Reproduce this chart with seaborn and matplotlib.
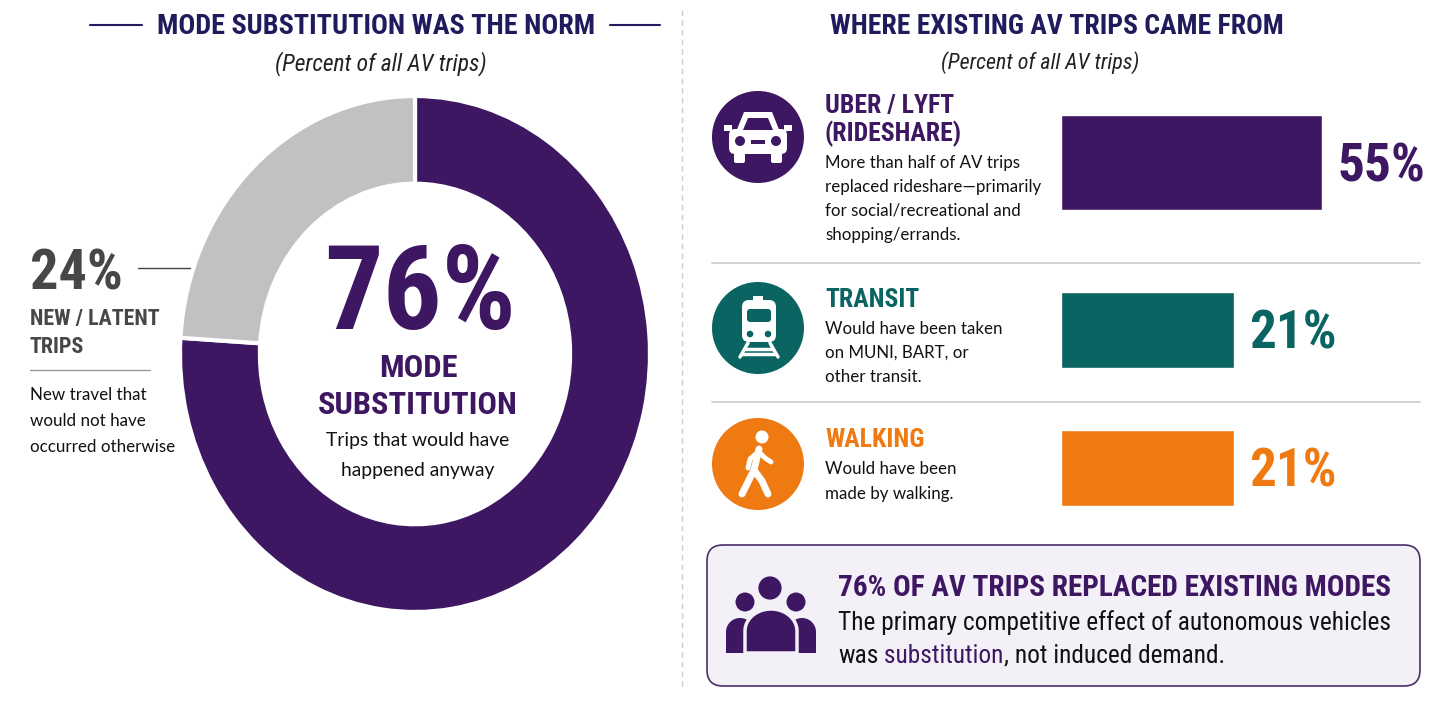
import numpy as np
import seaborn as sns
import matplotlib.pyplot as plt
import matplotlib.font_manager as fm
from matplotlib.patches import Circle, Rectangle, FancyBboxPatch, Polygon

# data
donut_labels = ["Mode substitution", "New / latent trips"]
donut_shares = [76, 24]
modes = ["Uber / Lyft (rideshare)", "Transit", "Walking"]
mode_shares = [55, 21, 21]
mode_heads = [["UBER / LYFT", "(RIDESHARE)"], ["TRANSIT"], ["WALKING"]]
mode_notes = [
    ["More than half of AV trips", "replaced rideshare\u2014primarily",
     "for social/recreational and", "shopping/errands."],
    ["Would have been taken", "on MUNI, BART, or", "other transit."],
    ["Would have been", "made by walking."],
]

PURPLE = "#3e1762"
NAVY = "#1f1b5c"
GRAY = "#c1c1c1"
DARK = "#474747"
TEAL = "#0a6461"
ORANGE = "#f07a12"
mode_colors = [PURPLE, TEAL, ORANGE]

avail = {f.name for f in fm.fontManager.ttflist}
HEAD = next((f for f in ["Roboto Condensed", "Liberation Sans Narrow", "Roboto"] if f in avail), "DejaVu Sans")
BODY = "Lato" if "Lato" in avail else "DejaVu Sans"

sns.set_theme(style="white")
plt.rcParams["font.family"] = [BODY, "DejaVu Sans"]

W, H = 1456, 704
fig = plt.figure(figsize=(W / 100, H / 100), dpi=100)
fig.patch.set_facecolor("white")
R = fig.canvas.get_renderer()

ov = fig.add_axes([0, 0, 1, 1])
ov.set_xlim(0, W)
ov.set_ylim(H, 0)
ov.axis("off")


def px_box(x, top, w, h):
    return [x / W, 1 - (top + h) / H, w / W, h / H]


def fit(s, width, family, weight="normal", style="normal"):
    t = ov.text(0, 0, s, fontsize=20, family=family, weight=weight, style=style)
    w = t.get_window_extent(renderer=R).width
    t.remove()
    return 20 * width / w


def txt(x, y, s, size, family, color, weight="normal", ha="left", style="normal"):
    return ov.text(x, y, s, fontsize=size, family=family, color=color, weight=weight,
                   ha=ha, va="baseline", style=style, zorder=5)


# ---- left panel ----
fs = fit("MODE SUBSTITUTION WAS THE NORM", 439, HEAD, "bold")
txt(376, 34, "MODE SUBSTITUTION WAS THE NORM", fs, HEAD, NAVY, "bold", "center")
ov.plot([90, 142], [25, 25], color=NAVY, lw=1.5)
ov.plot([610, 660], [25, 25], color=NAVY, lw=1.5)
fs = fit("(Percent of all AV trips)", 212, HEAD, style="italic")
txt(381, 70, "(Percent of all AV trips)", fs, HEAD, "#222222", ha="center", style="italic")

ax_d = fig.add_axes(px_box(180, 96, 470, 516))
ax_d.pie(donut_shares, colors=[PURPLE, GRAY], startangle=90, counterclock=False,
         wedgeprops=dict(width=0.34, edgecolor="white", linewidth=3))
ax_d.set_xlim(-1, 1)
ax_d.set_ylim(-1, 1)
ax_d.set_aspect("auto")
ax_d.axis("off")

fs = fit(f"{donut_shares[0]}%", 192, HEAD, "bold")
txt(420, 329, f"{donut_shares[0]}%", fs, HEAD, PURPLE, "bold", "center")
fs = fit("SUBSTITUTION", 200, HEAD, "bold")
txt(418, 377, "MODE", fs, HEAD, PURPLE, "bold", "center")
txt(418, 414, "SUBSTITUTION", fs, HEAD, PURPLE, "bold", "center")
fs = fit("Trips that would have", 184, BODY)
txt(418, 446, "Trips that would have", fs, BODY, "#111111", ha="center")
txt(418, 476, "happened anyway", fs, BODY, "#111111", ha="center")

fs = fit(f"{donut_shares[1]}%", 93, HEAD, "bold")
txt(30, 290, f"{donut_shares[1]}%", fs, HEAD, DARK, "bold")
ov.plot([138, 214], [268, 268], color="#444444", lw=1)
ov.plot([214], [268], "o", color="#444444", ms=3)
fs = fit("NEW / LATENT", 130, HEAD, "bold")
txt(30, 325, "NEW / LATENT", fs, HEAD, DARK, "bold")
txt(30, 353, "TRIPS", fs, HEAD, DARK, "bold")
ov.plot([30, 150], [370, 370], color="#9a9a9a", lw=1)
fs = fit("occurred otherwise", 145, BODY)
for y, s in zip([400, 426, 452], ["New travel that", "would not have", "occurred otherwise"]):
    txt(30, y, s, fs, BODY, "#111111")

# divider
ov.plot([682, 682], [10, 690], color="#cccccc", lw=1, ls=(0, (4, 3)))

# ---- right panel ----
fs = fit("WHERE EXISTING AV TRIPS CAME FROM", 452, HEAD, "bold")
txt(1057, 34, "WHERE EXISTING AV TRIPS CAME FROM", fs, HEAD, NAVY, "bold", "center")
fs = fit("(Percent of all AV trips)", 198, HEAD, style="italic")
txt(1040, 69, "(Percent of all AV trips)", fs, HEAD, "#222222", ha="center", style="italic")

for y in [263, 402]:
    ov.plot([712, 1420], [y, y], color="#cfcfcf", lw=1.3)

icon_cy = [137, 328, 464]
head_base = [[113, 141], [307], [447]]
note_base = [[168, 192, 216, 240], [334, 358, 382], [474, 499]]
fs_head = fit("UBER / LYFT", 129, HEAD, "bold")
fs_note = fit("replaced rideshare\u2014primarily", 215, BODY)
for i in range(3):
    ov.add_patch(Circle((758, icon_cy[i]), 46, fc=mode_colors[i], ec="none", zorder=2))
    for y, s in zip(head_base[i], mode_heads[i]):
        txt(825, y, s, fs_head, HEAD, mode_colors[i], "bold")
    for y, s in zip(note_base[i], mode_notes[i]):
        txt(825, y, s, fs_note, BODY, "#111111")

# car icon
wkw = dict(fc="white", ec="none", zorder=3)
ov.add_patch(Polygon([(736, 132), (744, 112), (772, 112), (780, 132)], **wkw))
ov.add_patch(Polygon([(743, 130), (748, 118), (768, 118), (773, 130)], fc=PURPLE, ec="none", zorder=4))
ov.add_patch(FancyBboxPatch((729, 129), 58, 25, boxstyle="round,pad=0,rounding_size=6", **wkw))
ov.add_patch(Rectangle((724, 125), 8, 6, **wkw))
ov.add_patch(Rectangle((784, 125), 8, 6, **wkw))
ov.add_patch(FancyBboxPatch((734, 150), 11, 13, boxstyle="round,pad=0,rounding_size=2", **wkw))
ov.add_patch(FancyBboxPatch((771, 150), 11, 13, boxstyle="round,pad=0,rounding_size=2", **wkw))
ov.add_patch(Circle((740, 141), 5, fc=PURPLE, ec="none", zorder=4))
ov.add_patch(Circle((776, 141), 5, fc=PURPLE, ec="none", zorder=4))
ov.add_patch(Rectangle((751, 140), 14, 3.5, fc=PURPLE, ec="none", zorder=4))

# train icon
ov.add_patch(Rectangle((753, 296), 10, 5, **wkw))
ov.add_patch(FancyBboxPatch((742, 300), 34, 42, boxstyle="round,pad=0,rounding_size=7", **wkw))
ov.add_patch(FancyBboxPatch((747, 309), 24, 13, boxstyle="round,pad=0,rounding_size=3", fc=TEAL, ec="none", zorder=4))
ov.add_patch(Circle((750, 334), 3.3, fc=TEAL, ec="none", zorder=4))
ov.add_patch(Circle((768, 334), 3.3, fc=TEAL, ec="none", zorder=4))
lkw = dict(color="white", lw=2.5, solid_capstyle="round", zorder=3)
ov.plot([748, 740], [343, 357], **lkw)
ov.plot([770, 778], [343, 357], **lkw)
ov.plot([745, 773], [349, 349], **lkw)
ov.plot([742, 776], [354, 354], **lkw)

# walking icon
ov.add_patch(Circle((762, 437), 6.5, **wkw))
pkw = dict(color="white", lw=5, solid_capstyle="round", solid_joinstyle="round", zorder=3)
ov.plot([759, 754], [449, 470], **pkw)
ov.plot([754, 762, 768], [470, 481, 494], **pkw)
ov.plot([754, 747, 742], [470, 484, 494], **pkw)
pkw["lw"] = 3.5
ov.plot([758, 750, 748], [452, 459, 468], **pkw)
ov.plot([759, 765, 771], [452, 458, 462], **pkw)

# bars
p = 0.43


def fwd(x):
    return np.sign(x) * np.abs(x) ** p


def inv(x):
    return np.sign(x) * np.abs(x) ** (1 / p)


bar_tops = [115, 292, 430]
bar_hts = [95, 76, 76]
fs_val = fit("55%", 88, HEAD, "bold")
for i, (m, v, c) in enumerate(zip(modes, mode_shares, mode_colors)):
    ax = fig.add_axes(px_box(1061, bar_tops[i], 271, bar_hts[i]))
    sns.barplot(x=[v], y=[m], color=c, saturation=1, width=1, errorbar=None, ax=ax)
    ax.set_xscale("function", functions=(fwd, inv))
    ax.set_xlim(0, 60)
    ax.set_ylim(0.5, -0.5)
    ax.axis("off")
    ax.annotate(f"{v}%", xy=(v, 0), xytext=(11, -0.355 * fs_val), textcoords="offset points",
                va="baseline", ha="left", fontsize=fs_val, family=HEAD, weight="bold",
                color=c, annotation_clip=False)

# ---- bottom box ----
ov.add_patch(FancyBboxPatch((707, 545), 713, 141, boxstyle="round,pad=0,rounding_size=16",
                            fc="#f4f0f7", ec="#4b2d6b", lw=1.2, zorder=1))


def body(cx, hw, top, bottom, ry, **kw):
    t = np.linspace(np.pi, 2 * np.pi, 40)
    pts = list(zip(cx + hw * np.cos(t), top + ry + ry * np.sin(t)))
    pts += [(cx + hw, bottom), (cx - hw, bottom)]
    ov.add_patch(Polygon(pts, closed=True, **kw))


body(740, 14, 618, 653, 14, fc=PURPLE, ec="none", zorder=3)
body(802, 14, 618, 653, 14, fc=PURPLE, ec="none", zorder=3)
ov.add_patch(Circle((745, 602), 9.5, fc=PURPLE, ec="none", zorder=3))
ov.add_patch(Circle((796, 602), 9.5, fc=PURPLE, ec="none", zorder=3))
body(771, 26, 609, 653, 22, fc=PURPLE, ec="#f4f0f7", lw=2.5, zorder=4)
ov.add_patch(Circle((770, 588), 13, fc=PURPLE, ec="#f4f0f7", lw=2, zorder=4))

box_title = f"{donut_shares[0]}% OF AV TRIPS REPLACED EXISTING MODES"
fs = fit(box_title, 552, HEAD, "bold")
txt(838, 596, box_title, fs, HEAD, PURPLE, "bold")
line1 = "The primary competitive effect of autonomous vehicles"
fs = fit(line1, 552, HEAD)
txt(838, 630, line1, fs, HEAD, "#111111")
t1 = txt(838, 663, "was", fs, HEAD, "#111111")
t2 = ov.annotate(" substitution", xy=(1, 0), xycoords=t1, va="bottom", ha="left",
                 fontsize=fs, family=HEAD, color=PURPLE, zorder=5)
ov.annotate(", not induced demand.", xy=(1, 0), xycoords=t2, va="bottom", ha="left",
            fontsize=fs, family=HEAD, color="#111111", zorder=5)

fig.savefig("out.png", dpi=100, facecolor="white")
